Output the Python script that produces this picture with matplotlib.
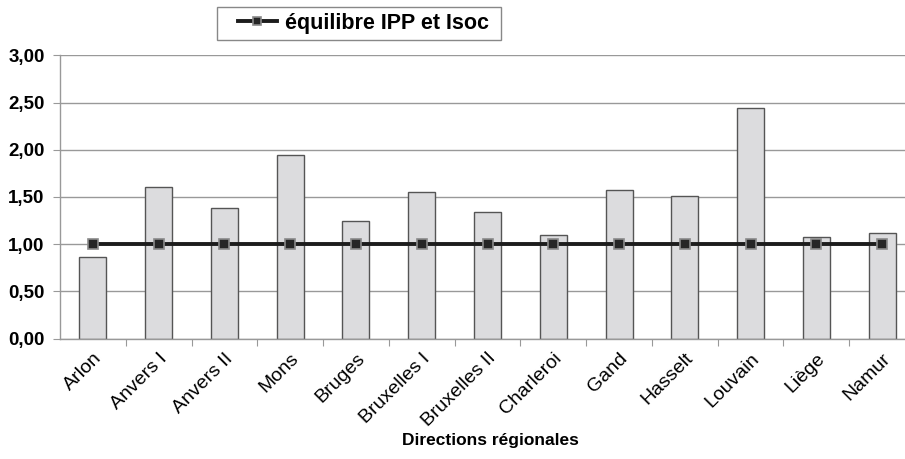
import matplotlib.pyplot as plt
import matplotlib.patches as mpatches
import numpy as np

plt.rcParams['font.family'] = ['Liberation Sans', 'DejaVu Sans']

# directions régionales et ratio par direction
directions = ['Arlon', 'Anvers I', 'Anvers II', 'Mons', 'Bruges', 'Bruxelles I',
              'Bruxelles II', 'Charleroi', 'Gand', 'Hasselt', 'Louvain', 'Liège', 'Namur']
ratios = [0.86, 1.61, 1.38, 1.94, 1.25, 1.55, 1.34, 1.10, 1.57, 1.51, 2.44, 1.08, 1.12]
equilibre = [1.00] * len(directions)
yticks = [0.0, 0.5, 1.0, 1.5, 2.0, 2.5, 3.0]

W, H = 905, 459
fig = plt.figure(figsize=(W / 100, H / 100), dpi=100)
ax = fig.add_axes([60 / W, (H - 338.7) / H, 855 / W, (338.7 - 55.3) / H])

x = np.arange(len(directions))
ax.bar(x, ratios, width=0.41, color='#dcdcde', edgecolor='#555555', linewidth=1.0, zorder=2)
line, = ax.plot(x, equilibre, color='#1c1c1c', linewidth=2.8, marker='s', markersize=7,
                markerfacecolor='#262626', markeredgecolor='#8a8a8a', markeredgewidth=1.2, zorder=3)

ax.set_xlim(-0.5, len(directions) - 0.5)
ax.set_ylim(0, 3.0)
ax.set_yticks(yticks)
ax.set_yticklabels([f'{v:.2f}'.replace('.', ',') for v in yticks], fontsize=13.5, fontweight='bold')
ax.yaxis.grid(True, color='#999999', linewidth=1.0, zorder=0)
ax.set_axisbelow(True)

# ticks on category boundaries, labels at category centres
ax.set_xticks(x + 0.5)
ax.tick_params(axis='x', which='major', length=5, color='#999999', labelbottom=False)
ax.set_xticks(x, minor=True)
ax.set_xticklabels(directions, minor=True, rotation=45, ha='right', rotation_mode='anchor',
                   fontsize=14)
ax.tick_params(axis='x', which='minor', length=0, pad=8)
ax.tick_params(axis='y', length=5, color='#999999', pad=6)

for side in ['top', 'right']:
    ax.spines[side].set_visible(False)
for side in ['left', 'bottom']:
    ax.spines[side].set_color('#999999')
    ax.spines[side].set_linewidth(1.0)

fig.text(490 / W, 1 - 440 / H, 'Directions régionales', fontsize=12.5, fontweight='bold',
         ha='center', va='center')

# legend box drawn by hand so the padding can be uneven
fig.patches.append(mpatches.Rectangle((217 / W, 1 - 39.5 / H), 284 / W, 32.5 / H,
                                      transform=fig.transFigure, facecolor='white',
                                      edgecolor='#888888', linewidth=1.0))
leg = fig.legend([line], ['équilibre IPP et Isoc'], loc='center left',
                 bbox_to_anchor=(238 / W, 1 - 23.5 / H), frameon=False,
                 prop={'weight': 'bold', 'size': 15.5}, handlelength=1.8, borderpad=0,
                 borderaxespad=0, handletextpad=0.4, markerscale=0.8)

fig.savefig('out.png', dpi=100)
